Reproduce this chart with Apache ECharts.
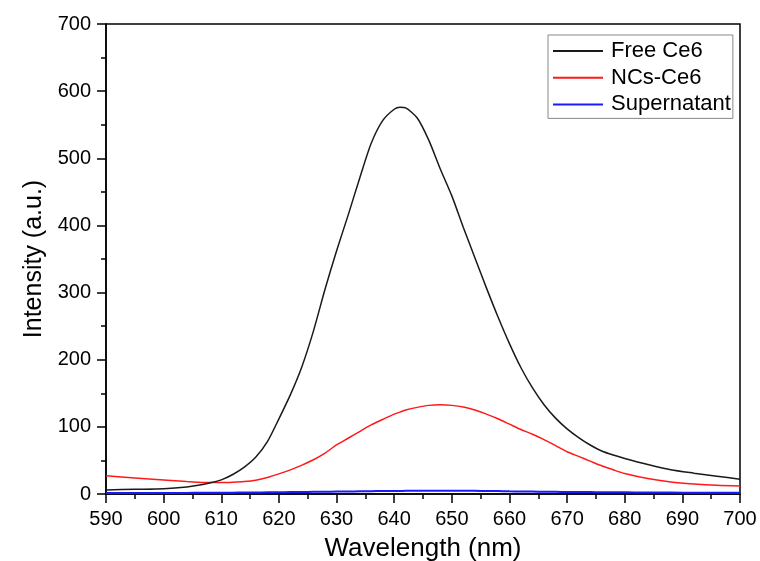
<!DOCTYPE html>
<html>
<head>
<meta charset="utf-8">
<script src="https://cdn.jsdelivr.net/npm/echarts@6/dist/echarts.min.js"></script>
<style>
  html, body { margin: 0; padding: 0; background: #ffffff; }
  #chart { width: 760px; height: 561px; }
</style>
</head>
<body>
<div id="chart"></div>
<script>
// Fluorescence emission spectra of Ce6 samples, wavelength in nm
const wavelengths = [590, 595, 600, 604, 606, 608, 610, 612, 614, 616, 618, 620, 622, 624, 626, 628,
  630, 632, 634, 636, 638, 640, 641, 642, 644, 646, 648, 650, 652, 654, 656, 658, 660, 662, 664,
  666, 668, 670, 672, 674, 676, 678, 680, 684, 688, 692, 696, 700];

const freeCe6 = [6, 7, 8, 10.5, 13, 16.5, 21, 29, 40, 55, 78, 112, 148, 190, 243, 305,
  362, 415, 470, 522, 556, 573, 576, 575, 560, 527, 484, 444, 397, 352, 307, 264, 224, 188, 158,
  133, 113, 97, 84, 73, 64, 58, 53, 44, 36, 31, 26.5, 22];

const ncsCe6 = [27, 24, 21, 18.5, 17.5, 17, 17, 17.5, 18.5, 20.5, 24.5, 30, 36, 43, 51, 61,
  73, 83, 93, 103, 111, 119, 122, 125, 129, 132, 133, 132, 129.5, 125, 119, 112, 104, 96, 89,
  81, 72, 63, 56, 49, 42, 36, 30.5, 23, 18, 15, 13, 12];

const supernatant = [1.5, 1.5, 1.5, 1.5, 1.8, 2, 2, 2, 2.2, 2.3, 2.5, 2.6, 2.8, 3, 3.2, 3.4,
  3.6, 3.8, 4, 4.2, 4.4, 4.5, 4.6, 4.7, 4.8, 4.9, 5, 5, 4.9, 4.7, 4.5, 4.3, 4, 3.8, 3.6,
  3.4, 3.2, 3, 2.9, 2.8, 2.7, 2.6, 2.5, 2.3, 2.1, 2, 2, 2];

const seriesNames = ['Free Ce6', 'NCs-Ce6', 'Supernatant'];
const seriesColors = ['#1a1a1a', '#ff1a1a', '#1a1aff'];
const seriesValues = [freeCe6, ncsCe6, supernatant];

const FONT = '"Liberation Sans", Arial, sans-serif';

const pairs = vals => wavelengths.map((w, i) => [w, vals[i]]);

const chart = echarts.init(document.getElementById('chart'), null, { renderer: 'canvas' });

const axisCommon = {
  axisLine: { show: true, onZero: false, lineStyle: { color: '#000', width: 1.5 } },
  axisTick: { show: true, inside: false, length: 9, lineStyle: { color: '#000', width: 1.5 } },
  minorTick: { show: true, splitNumber: 2, length: 5, lineStyle: { color: '#000', width: 1.5 } },
  splitLine: { show: false },
  axisLabel: { color: '#000', fontFamily: FONT, fontSize: 20 }
};

chart.setOption({
  backgroundColor: '#ffffff',
  animation: false,
  grid: {
    left: 106, right: 20, top: 24, bottom: 67,
    containLabel: false, outerBoundsMode: 'none',
    show: true, borderColor: '#000', borderWidth: 1.5, backgroundColor: 'transparent'
  },
  legend: {
    orient: 'vertical',
    left: 548, top: 35,
    padding: [5, 2, 3, 5],
    itemGap: 4.7,
    itemWidth: 50, itemHeight: 2,
    icon: 'rect',
    borderColor: '#888', borderWidth: 1,
    textStyle: { color: '#000', fontFamily: FONT, fontSize: 22, lineHeight: 22, padding: [0, 0, 0, 3] },
    data: seriesNames
  },
  xAxis: Object.assign({}, axisCommon, {
    type: 'value', min: 590, max: 700, interval: 10,
    name: 'Wavelength (nm)', nameLocation: 'middle', nameGap: 42,
    nameTextStyle: { color: '#000', fontFamily: FONT, fontSize: 26 },
    axisLabel: Object.assign({}, axisCommon.axisLabel, { margin: 15 })
  }),
  yAxis: Object.assign({}, axisCommon, {
    type: 'value', min: 0, max: 700, interval: 100,
    name: 'Intensity (a.u.)', nameLocation: 'middle', nameGap: 59, nameRotate: 90,
    nameTextStyle: { color: '#000', fontFamily: FONT, fontSize: 25 },
    axisLabel: Object.assign({}, axisCommon.axisLabel, { margin: 15 })
  }),
  series: seriesNames.map((name, k) => ({
    name: name,
    type: 'line',
    data: pairs(seriesValues[k]),
    smooth: 0.25,
    showSymbol: false,
    symbol: 'none',
    lineStyle: { color: seriesColors[k], width: k === 2 ? 2 : 1.5 },
    itemStyle: { color: seriesColors[k] },
    z: 3 - k
  }))
});
</script>
</body>
</html>
